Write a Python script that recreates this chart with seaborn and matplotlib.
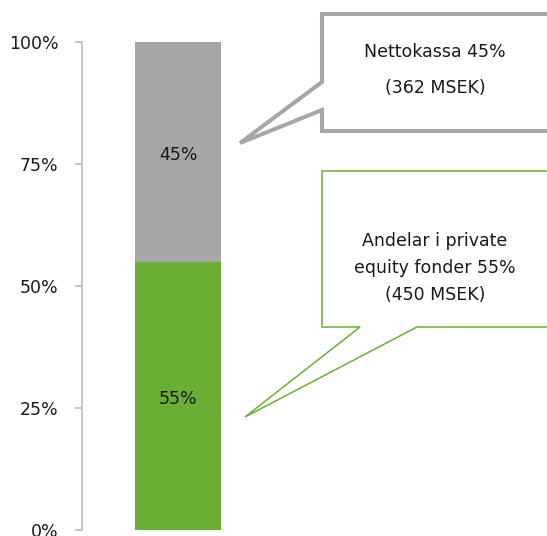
import matplotlib
matplotlib.use("Agg")
import matplotlib.pyplot as plt
import seaborn as sns
import pandas as pd
from matplotlib.patches import Polygon
from matplotlib.ticker import PercentFormatter

# data
segments = ["Andelar i private equity fonder", "Nettokassa"]
shares = [0.55, 0.45]
msek = [450, 362]
seg_colors = ["#6aaf35", "#a6a6a6"]
yticks = [0, 0.25, 0.5, 0.75, 1.0]

W, H = 547, 536
sns.set_style("white")
plt.rcParams["font.family"] = ["DejaVu Sans"]
FS = 12.5
TXT = "#1a1a1a"

fig = plt.figure(figsize=(W / 100, H / 100), dpi=100)
ax = fig.add_axes([82 / W, 6 / H, (W - 82) / W, 488 / H])

# stacked bar: draw cumulative totals from top down
df = pd.DataFrame({"seg": segments, "share": shares})
df["cum"] = df["share"].cumsum()
for i in reversed(range(len(df))):
    sns.barplot(x=["x"], y=[df["cum"].iloc[i]], color=seg_colors[i],
                width=0.8, saturation=1, linewidth=0, ax=ax)

# labels in centre of each segment
bottoms = [0] + list(df["cum"].iloc[:-1])
for b, s in zip(bottoms, shares):
    ax.text(0, b + s / 2 - 0.006, f"{s:.0%}", ha="center", va="center",
            fontsize=FS, color=TXT)

ax.set_xlim(-0.893, 3.433)
ax.set_ylim(0, 1)
ax.set_yticks(yticks)
ax.yaxis.set_major_formatter(PercentFormatter(1.0, decimals=0))
ax.set_xticks([])
ax.set_xlabel("")
ax.set_ylabel("")
for s in ["top", "right", "bottom"]:
    ax.spines[s].set_visible(False)
ax.spines["left"].set_color("#bfbfbf")
ax.spines["left"].set_linewidth(1.3)
ax.tick_params(axis="y", left=True, length=5, color="#bfbfbf", width=1.3,
               labelsize=FS, labelcolor=TXT, pad=12)


def px(pts):
    return [(x / W, 1 - y / H) for x, y in pts]


# callouts
gray_pts = [(322, 82), (322, 14), (560, 14), (560, 131), (322, 131),
            (322, 110), (240, 143)]
fig.patches.append(Polygon(px(gray_pts), closed=True, transform=fig.transFigure,
                           facecolor="white", edgecolor="#a6a6a6", lw=2.9,
                           joinstyle="miter"))
green_pts = [(322, 171), (560, 171), (560, 327), (417, 327), (245, 417),
             (360, 327), (322, 327)]
fig.patches.append(Polygon(px(green_pts), closed=True, transform=fig.transFigure,
                           facecolor="white", edgecolor="#6aaf35", lw=1.1,
                           joinstyle="miter"))

fig.text(435 / W, 1 - 52 / H, f"Nettokassa {shares[1]:.0%}", ha="center",
         va="center", fontsize=FS, color=TXT)
fig.text(435 / W, 1 - 88 / H, f"({msek[1]} MSEK)", ha="center",
         va="center", fontsize=FS, color=TXT)
fig.text(435 / W, 1 - 268 / H,
         f"Andelar i private\nequity fonder {shares[0]:.0%}\n({msek[0]} MSEK)",
         ha="center", va="center", fontsize=FS, color=TXT,
         linespacing=1.65)

fig.savefig("out.png", dpi=100)
